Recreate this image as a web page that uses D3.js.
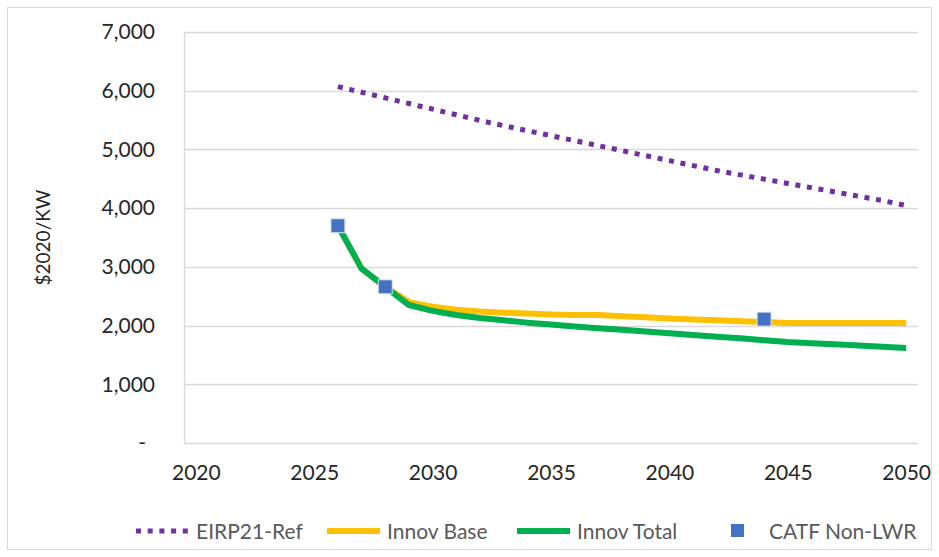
<!DOCTYPE html>
<html>
<head>
<meta charset="utf-8">
<script src="https://cdn.jsdelivr.net/npm/d3@7"></script>
<style>
  html, body { margin: 0; padding: 0; background: #fff; }
  svg { display: block; }
  text { font-family: Lato, "Open Sans", sans-serif; }
</style>
</head>
<body>
<svg id="chart" width="939" height="557"></svg>
<script>
// ---- data ----
const years = d3.range(2020, 2051);
const xTickLabels = [2020, 2025, 2030, 2035, 2040, 2045, 2050];
const yTickValues = [0, 1000, 2000, 3000, 4000, 5000, 6000, 7000];

const seriesYears = d3.range(2026, 2051);
const eirp21Ref = [6070, 5974, 5878, 5782, 5686, 5590, 5494, 5404, 5319, 5234, 5149, 5064, 4979,
                   4894, 4809, 4724, 4640, 4567, 4494, 4421, 4348, 4275, 4202, 4129, 4045];
const innovBase = [3700, 2970, 2660, 2400, 2320, 2270, 2240, 2220, 2205, 2190, 2180, 2180, 2160,
                   2140, 2120, 2105, 2090, 2075, 2060, 2045, 2045, 2045, 2045, 2045, 2045];
const innovTotal = [3700, 2970, 2660, 2350, 2250, 2180, 2130, 2090, 2050, 2020, 1985, 1955, 1930,
                    1900, 1870, 1840, 1810, 1785, 1750, 1720, 1700, 1680, 1660, 1640, 1620];
const catfYears = [2026, 2028, 2044];
const catfValues = [3700, 2660, 2110];

const seriesNames = ["EIRP21-Ref", "Innov Base", "Innov Total", "CATF Non-LWR"];
const colors = { eirp: "#7030A0", base: "#FFC000", total: "#00B050", catf: "#4472C4" };

// ---- layout ----
const svg = d3.select("#chart");
const plot = { left: 184, right: 918, top: 32, bottom: 443 };

svg.append("rect").attr("x", 7.5).attr("y", 7.5).attr("width", 924).attr("height", 542)
  .attr("fill", "#fff").attr("stroke", "#d9d9d9").attr("stroke-width", 1);

const x = d3.scalePoint().domain(years).range([plot.left, plot.right]).padding(0.5);
const y = d3.scaleLinear().domain([0, 7000]).range([plot.bottom, plot.top]);

// gridlines
svg.append("g").selectAll("line").data(yTickValues).join("line")
  .attr("x1", plot.left).attr("x2", plot.right)
  .attr("y1", d => Math.round(y(d)) + 0.5).attr("y2", d => Math.round(y(d)) + 0.5)
  .attr("stroke", "#d9d9d9").attr("stroke-width", 1.3);
// left axis line
svg.append("line").attr("x1", plot.left + 0.5).attr("x2", plot.left + 0.5)
  .attr("y1", plot.top).attr("y2", plot.bottom)
  .attr("stroke", "#d9d9d9").attr("stroke-width", 1.3);

// y axis
const yAxis = svg.append("g").attr("transform", `translate(${plot.left - 29},0)`)
  .call(d3.axisLeft(y).tickValues(yTickValues).tickSize(0).tickPadding(0)
    .tickFormat(d => d === 0 ? "-" : d3.format(",")(d)));
yAxis.select(".domain").remove();
yAxis.selectAll("text").attr("font-size", 21).attr("fill", "#262626")
  .style("font-family", "Lato, sans-serif")
  .attr("dx", d => d === 0 ? -9 : 0);

// x axis
const xAxis = svg.append("g").attr("transform", `translate(0,${plot.bottom})`)
  .call(d3.axisBottom(x).tickValues(xTickLabels).tickSize(0).tickPadding(22));
xAxis.select(".domain").remove();
xAxis.selectAll("text").attr("font-size", 21).attr("fill", "#262626")
  .style("font-family", "Lato, sans-serif");

// y title
svg.append("text").attr("transform", `translate(50,${(plot.top + plot.bottom) / 2}) rotate(-90)`)
  .attr("text-anchor", "middle").attr("font-size", 19).attr("fill", "#262626")
  .text("$2020/KW");

// lines
const line = d3.line().x(d => x(d[0])).y(d => y(d[1]));
const zip = (xs, vs) => xs.map((d, i) => [d, vs[i]]);

svg.append("path").datum(zip(seriesYears, eirp21Ref)).attr("d", line)
  .attr("fill", "none").attr("stroke", colors.eirp).attr("stroke-width", 5)
  .attr("stroke-dasharray", "5,6.7");
svg.append("path").datum(zip(seriesYears, innovBase)).attr("d", line)
  .attr("fill", "none").attr("stroke", colors.base).attr("stroke-width", 6)
  .attr("stroke-linejoin", "round");
svg.append("path").datum(zip(seriesYears, innovTotal)).attr("d", line)
  .attr("fill", "none").attr("stroke", colors.total).attr("stroke-width", 6)
  .attr("stroke-linejoin", "round");

// CATF markers
const sq = 14;
svg.append("g").selectAll("rect").data(zip(catfYears, catfValues)).join("rect")
  .attr("x", d => x(d[0]) - sq / 2).attr("y", d => y(d[1]) - sq / 2)
  .attr("width", sq).attr("height", sq)
  .attr("fill", colors.catf).attr("stroke", "#dfe6f3").attr("stroke-width", 1);

// legend
const leg = svg.append("g");
const ly = 531;
leg.append("line").attr("x1", 136).attr("x2", 189).attr("y1", ly).attr("y2", ly)
  .attr("stroke", colors.eirp).attr("stroke-width", 5).attr("stroke-dasharray", "5,6.7");
leg.append("line").attr("x1", 327).attr("x2", 380).attr("y1", ly).attr("y2", ly)
  .attr("stroke", colors.base).attr("stroke-width", 6);
leg.append("line").attr("x1", 517).attr("x2", 570).attr("y1", ly).attr("y2", ly)
  .attr("stroke", colors.total).attr("stroke-width", 6);
leg.append("rect").attr("x", 731).attr("y", ly - 7).attr("width", 13).attr("height", 13)
  .attr("fill", colors.catf);
const legTextX = [196, 387, 577, 769];
leg.selectAll("text").data(seriesNames).join("text")
  .attr("x", (d, i) => legTextX[i]).attr("y", ly + 8)
  .attr("font-size", 21).attr("fill", "#595959").text(d => d);
</script>
</body>
</html>
